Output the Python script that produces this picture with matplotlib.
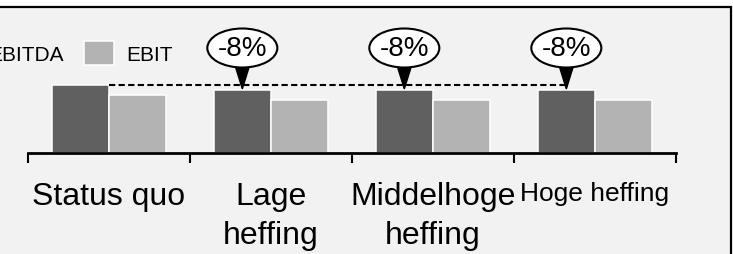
import matplotlib
matplotlib.use("Agg")
import matplotlib.pyplot as plt
from matplotlib.patches import Rectangle, Ellipse, Polygon
import numpy as np

plt.rcParams['font.family'] = ['Liberation Sans', 'DejaVu Sans']

# data
categories = ["Status quo", "Lage\nheffing", "Middelhoge\nheffing", "Hoge heffing"]
ebitda = [100, 92, 92, 92]
ebit = [85, 78, 78, 78]
change_labels = [None, "-8%", "-8%", "-8%"]

dark = "#606060"
light = "#b3b3b3"
bg = "#f2f2f2"

W, H = 733, 255
fig = plt.figure(figsize=(W / 100, H / 100), dpi=100)
fig.patch.set_facecolor("white")

# grey panel with a black frame (cropped on left/bottom)
fig.patches.append(Rectangle((-10 / W, -10 / H), (740.5) / W, (256 - 9 + 10) / H,
                             transform=fig.transFigure, facecolor=bg,
                             edgecolor="black", linewidth=1.6, zorder=-10))

# axes in pixel layout
ax_l, ax_b, ax_w, ax_h = 28, 255 - 154, 648, 145
ax = fig.add_axes([ax_l / W, ax_b / H, ax_w / W, ax_h / H])
ax.patch.set_alpha(0)

px_per_y = 68 / 100.0          # pixels per value unit
ymax = ax_h / px_per_y
ux = 1 / 162.0                  # data units per pixel (x)
uy = 1 / px_per_y               # data units per pixel (y)

x = np.arange(len(categories)) + 0.5
bw = 0.352
b1 = ax.bar(x - 0.177, ebitda, bw, color=dark, edgecolor="white", linewidth=1.1,
            label="EBITDA", zorder=2)
b2 = ax.bar(x + 0.177, ebit, bw, color=light, edgecolor="white", linewidth=1.1,
            label="EBIT", zorder=2)

ax.set_xlim(0, 4)
ax.set_ylim(0, ymax)

# dashed reference line at status quo EBITDA
ax.hlines(ebitda[0], x[0] - 0.177 + bw / 2, x[3] - 0.177, colors="black",
          linestyles=(0, (3, 1.6)), linewidth=1.5, zorder=3)

# callouts
for i, lab in enumerate(change_labels):
    if lab is None:
        continue
    cx = x[i] - 0.177
    cy = 105 * uy
    tri = Polygon([[cx - 9 * ux, cy - 12 * uy], [cx + 9 * ux, cy - 12 * uy],
                   [cx, ebitda[i] + 1.5 * uy]], closed=True,
                  facecolor="black", edgecolor="black", zorder=4, clip_on=False)
    ax.add_patch(tri)
    ell = Ellipse((cx, cy), 70 * ux, 39 * uy, facecolor="white",
                  edgecolor="black", linewidth=1.5, zorder=5, clip_on=False)
    ax.add_patch(ell)
    ax.text(cx, cy, lab, ha="center", va="center", fontsize=20, zorder=6)

# axes styling
for s in ["top", "left", "right"]:
    ax.spines[s].set_visible(False)
ax.spines["bottom"].set_linewidth(2)
ax.set_yticks([])
ax.set_xticks(np.arange(0, 5))
ax.set_xticklabels([])
ax.tick_params(axis="x", which="major", direction="out", length=7, width=1.5)
ax.set_xticks(x, minor=True)
ax.set_xticklabels(categories, minor=True, fontsize=23, linespacing=1.4)
ax.tick_params(axis="x", which="minor", length=0, pad=20)
ax.get_xticklabels(minor=True)[3].set_fontsize(19)

# legend (partly cropped at left edge)
ax.legend(handles=[b1, b2], loc="center left", ncol=2, frameon=False,
          bbox_to_anchor=(-54 / W, 201 / H), bbox_transform=fig.transFigure,
          fontsize=15, handlelength=1.44, handleheight=1.45, handletextpad=0.58,
          columnspacing=1.0, borderpad=0, borderaxespad=0)

fig.savefig("out.png", dpi=100, facecolor=fig.get_facecolor())
